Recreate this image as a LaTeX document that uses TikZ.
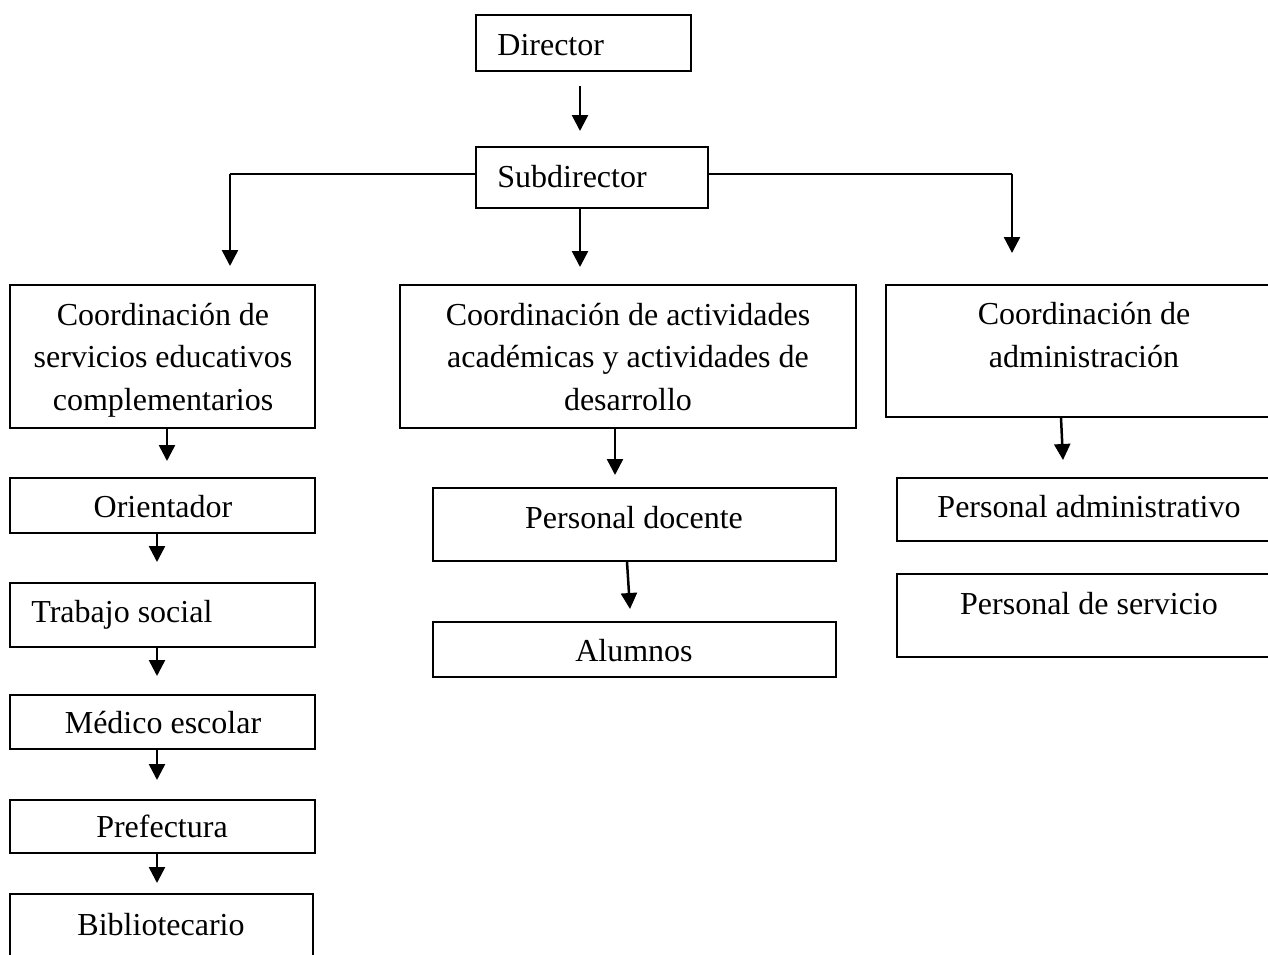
\documentclass[tikz,border=0pt]{standalone}
\usepackage{fontspec}
\setmainfont{Liberation Serif}
\usetikzlibrary{arrows.meta,fit}
\begin{document}
\begin{tikzpicture}[x=0.5pt,y=-0.5pt,
  box/.style={draw,line width=1pt,inner sep=0pt,rectangle},
  txt/.style={font=\fontsize{16}{21.25}\selectfont,align=center,inner sep=0pt,anchor=base},
  arr/.style={line width=1.25pt,-{Triangle[width=8pt,length=8pt]}},
  ln/.style={line width=1.1pt}]
\useasboundingbox (0,0) rectangle (1268,954);
\clip (0,0) rectangle (1268,954);
% boxes
\node[box,fit={(476,15) (691,71)}] (dir) {};
\node[box,fit={(476,147) (708,208)}] (sub) {};
\node[box,fit={(10,285) (315,428)}] (c1) {};
\node[box,fit={(400,285) (856,428)}] (c2) {};
\node[box,fit={(886,285) (1290,417)}] (c3) {};
\node[box,fit={(10,478) (315,533)}] (ori) {};
\node[box,fit={(10,583) (315,647)}] (tra) {};
\node[box,fit={(10,695) (315,749)}] (med) {};
\node[box,fit={(10,800) (315,853)}] (pre) {};
\node[box,fit={(10,894) (313,990)}] (bib) {};
\node[box,fit={(433,488) (836,561)}] (doc) {};
\node[box,fit={(433,622) (836,677)}] (alu) {};
\node[box,fit={(897,478) (1290,541)}] (adm) {};
\node[box,fit={(897,574) (1290,657)}] (ser) {};
% texts
\node[txt,anchor=base west] (dirt) at (497,55) {Director};
\node[txt,anchor=base west] (subt) at (497,187) {Subdirector};
\node[txt] (c1t) at (163,410) {Coordinación de\\servicios educativos\\complementarios};
\node[txt] (c2t) at (628,410) {Coordinación de actividades\\académicas y actividades de\\desarrollo};
\node[txt] (c3t) at (1084,367) {Coordinación de\\administración};
\node[txt] (orit) at (163,517) {Orientador};
\node[txt,anchor=base west] (trat) at (31,622) {Trabajo social};
\node[txt] (medt) at (163,733) {Médico escolar};
\node[txt] (pret) at (162,837) {Prefectura};
\node[txt] (bibt) at (161,935) {Bibliotecario};
\node[txt] (doct) at (634,528) {Personal docente};
\node[txt] (alut) at (634,661) {Alumnos};
\node[txt] (admt) at (1089,517) {Personal administrativo};
\node[txt] (sert) at (1089,614) {Personal de servicio};
% connectors
\coordinate (lk) at (230,174);
\coordinate (rk) at (1012,174);
\coordinate (le) at (230,266);
\coordinate (re) at (1012,253);
\coordinate (me) at (580,267);
\draw[arr] ([yshift=-7pt]dir.south -| 580,0) -- ([yshift=7.5pt]sub.north -| 580,0);
\draw[ln] (sub.west |- lk) -- (lk);
\draw[arr] (lk) -- (le);
\draw[ln] (sub.east |- rk) -- (rk);
\draw[arr] (rk) -- (re);
\draw[arr] (sub.south -| me) -- (me);
\draw[arr] (c1.south -| 167,0) -- ([yshift=8pt]ori.north -| 167,0);
\draw[arr] (ori.south -| 157,0) -- ([yshift=10pt]tra.north -| 157,0);
\draw[arr] (tra.south -| 157,0) -- ([yshift=9pt]med.north -| 157,0);
\draw[arr] (med.south -| 157,0) -- ([yshift=9.5pt]pre.north -| 157,0);
\draw[arr] (pre.south -| 157,0) -- ([yshift=5pt]bib.north -| 157,0);
\draw[arr] (c2.south -| 615,0) -- ([yshift=6pt]doc.north -| 615,0);
\draw[arr] (doc.south -| 627,0) -- ([yshift=6pt]alu.north -| 630,0);
\draw[arr] (c3.south -| 1061,0) -- ([yshift=8.5pt]adm.north -| 1063,0);
\end{tikzpicture}
\end{document}
